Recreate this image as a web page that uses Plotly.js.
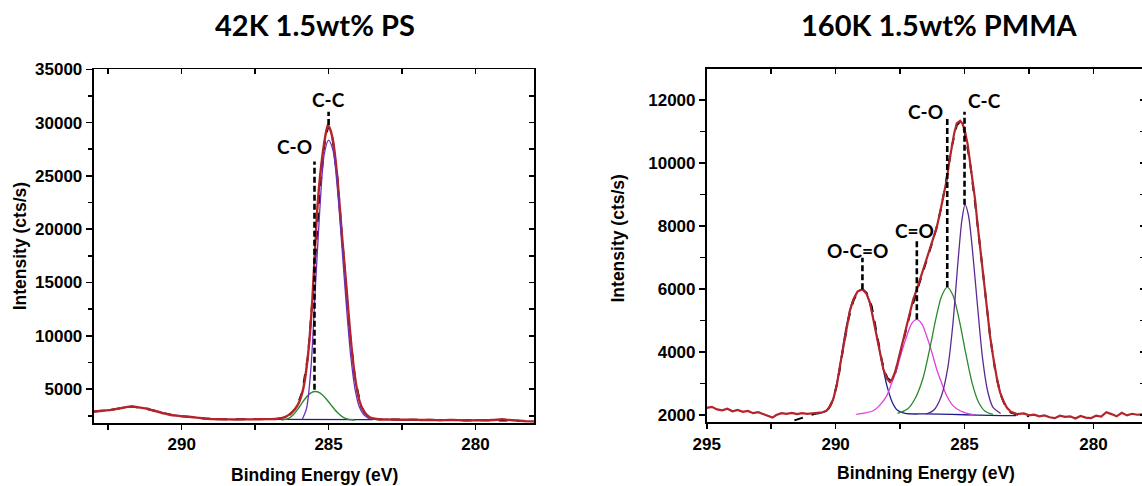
<!DOCTYPE html>
<html>
<head>
<meta charset="utf-8">
<script src="https://cdn.plot.ly/plotly-3.0.1.min.js"></script>
<style>
html,body{margin:0;padding:0;overflow:hidden;background:#fff;}
#chart{width:1150px;height:486px;}
</style>
</head>
<body>
<div id="chart"></div>
<script>
// ---------- Left panel: 42K 1.5wt% PS ----------
const psTitle = "42K 1.5wt% PS";
const psDataE = [293.0,292.8,292.6,292.4,292.2,292.0,291.85,291.7,291.55,291.4,291.2,291.0,290.8,290.6,290.4,290.2,290.0,289.8,289.6,289.4,289.2,289.0,288.8,288.5,288.2,287.9,287.6,287.3,287.0,286.8,286.6,286.45,286.3,286.15,286.0,285.85,285.7,285.55,285.4,285.25,285.1,285.03,284.95,284.85,284.7,284.55,284.4,284.25,284.1,283.95,283.8,283.65,283.5,283.3,283.0,282.7,282.4,282.1,281.8,281.5,281.2,280.9,280.6,280.3,280.0,279.7,279.4,279.1,278.9,278.6,278.3,278.0];
const psDataI = [2880,2950,3000,3050,3150,3250,3330,3370,3330,3260,3180,3020,2880,2720,2600,2520,2460,2420,2360,2300,2240,2200,2180,2170,2150,2170,2160,2180,2190,2200,2280,2420,2700,3100,3800,5200,8200,13500,21300,26000,28900,29780,29400,28300,24800,19600,14800,9800,6100,3900,2900,2450,2250,2180,2150,2130,2120,2140,2100,2110,2080,2100,2090,2060,2080,2070,2100,2180,2120,2050,1990,1960];
const psEnvE = [293.0,292.5,292.0,291.7,291.3,290.8,290.3,289.8,289.2,288.6,288.0,287.4,286.8,286.5,286.3,286.1,285.9,285.7,285.5,285.3,285.15,285.02,284.9,284.7,284.5,284.3,284.1,283.9,283.7,283.5,283.2,282.5,281.5,280.5,279.5,278.5,278.0];
const psEnvI = [2900,3020,3240,3360,3220,2880,2560,2410,2250,2170,2160,2170,2200,2330,2650,3250,4700,8100,15200,23500,27800,29600,29300,24800,17600,10900,6000,3400,2500,2220,2160,2130,2110,2090,2080,2040,2000];
const psCCE = [285.9,285.75,285.6,285.45,285.3,285.15,285.0,284.85,284.7,284.55,284.4,284.25,284.1,283.95,283.8,283.6];
const psCCI = [2150,3200,7000,14500,21800,27000,28350,27400,23800,18500,13000,8200,5000,3300,2600,2200];
const psCOE = [286.6,286.4,286.2,286.0,285.8,285.6,285.45,285.3,285.1,284.9,284.7,284.5,284.3,284.1];
const psCOI = [2110,2200,2600,3300,4100,4650,4780,4650,4150,3450,2800,2350,2150,2100];
const psBaseE = [286.9,283.5];
const psBaseI = [2170,2140];
const psLabels = ["C-C","C-O"];
const psLabelE = [285.0,285.48];
const psLineBottom = [29780,4935];
const psLineTop = [31020,26340];
const psLabelTextE = [285.0,285.48];
const psLabelTextI = [32150,27750];
const psLabelAnchor = ["center","right"];

// ---------- Right panel: 160K 1.5wt% PMMA ----------
const pmTitle = "160K 1.5wt% PMMA";
const pmDataE = [295.0,294.8,294.6,294.4,294.2,294.0,293.8,293.6,293.4,293.2,293.0,292.8,292.6,292.45,292.3,292.1,291.9,291.7,291.5,291.3,291.1,290.9,290.7,290.5,290.35,290.2,290.09,289.95,289.83,289.7,289.57,289.45,289.31,289.15,288.96,288.8,288.67,288.55,288.41,288.28,288.15,288.0,287.89,287.8,287.7,287.6,287.5,287.37,287.24,287.1,286.99,286.85,286.73,286.6,286.47,286.35,286.21,286.08,285.95,285.82,285.69,285.6,285.5,285.4,285.3,285.17,285.08,284.98,284.88,284.79,284.69,284.59,284.5,284.4,284.3,284.2,284.1,284.01,283.9,283.82,283.72,283.62,283.5,283.36,283.2,282.97,282.7,282.5,282.3,282.1,281.9,281.7,281.5,281.3,281.1,280.9,280.7,280.5,280.3,280.1,279.9,279.7,279.5,279.3,279.1,278.9,278.7,278.5,278.3,278.0];
const pmDataI = [2230,2260,2180,2150,2200,2120,2160,2100,2130,2060,2090,2030,1960,1920,2000,2060,2040,2070,2030,2060,2040,2050,2060,2090,2140,2300,2510,2950,3560,4200,4830,5300,5670,5920,5990,5850,5570,5100,4510,3950,3460,3150,3050,3150,3350,3650,3990,4400,4830,5250,5670,5990,6300,6600,6940,7250,7570,7950,8420,8950,9470,10000,10520,10950,11260,11340,11250,11000,10600,10100,9500,8840,8100,7360,6600,5880,5150,4510,3900,3460,3050,2720,2450,2240,2100,2030,2050,1990,2010,1960,1990,1930,1900,1980,1940,1960,1890,1970,1920,1900,1980,1950,2090,2030,1960,2070,1990,2040,2010,2030];
const pmEnvE = [291.6,291.2,290.8,290.5,290.3,290.1,289.9,289.7,289.5,289.3,289.1,288.95,288.8,288.6,288.4,288.2,288.0,287.85,287.7,287.5,287.3,287.1,286.9,286.7,286.5,286.3,286.1,285.9,285.7,285.5,285.3,285.15,285.0,284.8,284.6,284.4,284.2,284.0,283.8,283.6,283.4,283.2,282.9,282.5];
const pmEnvI = [1830,1940,2040,2080,2160,2480,3150,4150,5050,5650,5950,5990,5880,5450,4600,3700,3180,3080,3300,3900,4600,5250,5800,6300,6800,7350,7900,8600,9500,10500,11200,11330,11000,10100,8800,7300,5850,4450,3350,2650,2250,2080,2000,1960];
const pmOCOE = [290.8,290.6,290.35,290.1,289.85,289.6,289.35,289.1,288.96,288.8,288.6,288.4,288.2,288.0,287.8,287.6,287.3,286.5,285.5,284.5,283.5,283.0];
const pmOCOI = [2060,2065,2130,2480,3500,4750,5600,5950,5990,5850,5300,4500,3650,2900,2400,2150,2050,2035,2020,2000,1985,1980];
const pmCdOE = [289.2,288.9,288.54,288.3,288.02,287.83,287.63,287.44,287.24,287.05,286.85,286.66,286.47,286.27,286.08,285.88,285.69,285.45,285.17,284.9,284.66];
const pmCdOI = [2020,2060,2136,2300,2611,3000,3456,4000,4510,4900,5038,4900,4510,4000,3456,3000,2611,2300,2136,2050,2010];
const pmCOE = [287.6,287.2,286.9,286.6,286.35,286.1,285.9,285.67,285.45,285.2,284.95,284.7,284.45,284.2,283.9];
const pmCOI = [2050,2200,2550,3200,4100,5100,5750,6060,5800,5000,3950,3000,2400,2120,2020];
const pmCCE = [286.5,286.2,285.9,285.65,285.45,285.25,285.1,284.98,284.85,284.7,284.5,284.3,284.1,283.9,283.6];
const pmCCI = [2030,2150,2600,3500,4900,6900,8200,8680,8350,7300,5500,3800,2750,2250,2050];
const pmLabels = ["O-C=O","C=O","C-O","C-C"];
const pmLabelE = [288.96,286.85,285.67,285.0];
const pmLineBottom = [5990,5038,6061,8678];
const pmLineTop = [6990,7517,11423,11631];
const pmLabelTextE = [289.17,286.93,285.76,284.93];
const pmLabelTextI = [7230,7870,11630,12000];
const pmLabelAnchor = ["center","center","right","left"];

// ---------- styles ----------
const RED = "#b3242b";
const tickFont = {family:"Liberation Sans, Arial, sans-serif", size:17, color:"#000", weight:700};
const labelFont = {family:"Lato, 'Noto Sans', sans-serif", size:19, color:"#000", weight:700};
const titleFont = {family:"Lato, 'Noto Sans', sans-serif", size:29, color:"#000", weight:700};
const axTitleFont = {family:"Liberation Sans, Arial, sans-serif", size:17.5, color:"#000", weight:700};

function line(x, y, color, width, xa, ya, extra) {
  return Object.assign({type:"scatter", mode:"lines", x:x, y:y, xaxis:xa, yaxis:ya,
    line:Object.assign({color:color, width:width}, extra||{}), hoverinfo:"skip", showlegend:false});
}

const traces = [];
// left panel
traces.push(line(psEnvE, psEnvI, "#000", 2, "x", "y", {dash:"dash"}));
traces.push(line(psBaseE, psBaseI, "#1c1c9a", 1.3, "x", "y"));
traces.push(line(psCOE, psCOI, "#2e8b2e", 1.4, "x", "y", {shape:"spline", smoothing:0.8}));
traces.push(line(psDataE, psDataI, RED, 2.4, "x", "y", {shape:"spline", smoothing:0.4}));
traces.push(line(psCCE, psCCI, "#6a2fb5", 1.3, "x", "y", {shape:"spline", smoothing:0.8}));
// label lines: drawn on the overlay axes (same ranges) so that the top/right frame axes exist
const psLineAxes = [["x3","y"],["x","y3"]];
for (let i = 0; i < psLabels.length; i++) {
  traces.push(line([psLabelE[i], psLabelE[i]], [psLineBottom[i], psLineTop[i]], "#000", 2.6, psLineAxes[i][0], psLineAxes[i][1], {dash:"6px,3px"}));
}
// right panel
traces.push(line(pmEnvE, pmEnvI, "#000", 2, "x2", "y2", {dash:"dash"}));
traces.push(line(pmOCOE, pmOCOI, "#1c1c8a", 1.3, "x2", "y2", {shape:"spline", smoothing:0.8}));
traces.push(line(pmCdOE, pmCdOI, "#e040e0", 1.3, "x2", "y2", {shape:"spline", smoothing:0.8}));
traces.push(line(pmCOE, pmCOI, "#2a8a2a", 1.3, "x2", "y2", {shape:"spline", smoothing:0.8}));
traces.push(line(pmCCE, pmCCI, "#5a2a90", 1.3, "x2", "y2", {shape:"spline", smoothing:0.8}));
traces.push(line(pmDataE, pmDataI, RED, 2.2, "x2", "y2"));
const pmLineAxes = [["x4","y2"],["x2","y4"],["x2","y2"],["x2","y2"]];
for (let i = 0; i < pmLabels.length; i++) {
  traces.push(line([pmLabelE[i], pmLabelE[i]], [pmLineBottom[i], pmLineTop[i]], "#000", 2.6, pmLineAxes[i][0], pmLineAxes[i][1], {dash:"6px,3px"}));
}

const W = 1150, H = 486;
const base = {showgrid:false, zeroline:false, showline:true, linecolor:"#000", linewidth:1.8,
  tickcolor:"#000", tickwidth:1.6, tickfont:tickFont, tickformat:"d"};

const layout = {
  width:W, height:H, margin:{l:0,r:0,t:0,b:0},
  paper_bgcolor:"#fff", plot_bgcolor:"#fff", showlegend:false,
  xaxis: Object.assign({}, base, {domain:[93.5/W, 534.3/W], anchor:"y", range:[293,278],
    dtick:5, tick0:0, ticks:"outside", ticklen:5,
    minor:{dtick:2.5, tick0:0, ticks:"outside", ticklen:5, tickcolor:"#000", tickwidth:1.6}}),
  xaxis3: Object.assign({}, base, {overlaying:"x", anchor:"y", side:"top", range:[293,278],
    dtick:2.5, tick0:0, ticks:"inside", ticklen:5, showticklabels:false}),
  yaxis: Object.assign({}, base, {domain:[1-422.7/H, 1-69.3/H], anchor:"x", range:[1850,35000],
    dtick:5000, tick0:0, ticks:"outside", ticklen:6,
    minor:{dtick:2500, tick0:0, ticks:"outside", ticklen:4, tickcolor:"#000", tickwidth:1.6}}),
  yaxis3: Object.assign({}, base, {overlaying:"y", anchor:"x", side:"right", range:[1850,35000],
    dtick:2500, tick0:0, ticks:"inside", ticklen:5, showticklabels:false}),
  xaxis2: Object.assign({}, base, {domain:[706.7/W, 1145/W], anchor:"y2", range:[295,278],
    dtick:5, tick0:0, ticks:"outside", ticklen:5,
    minor:{dtick:2.5, tick0:0, ticks:"outside", ticklen:5, tickcolor:"#000", tickwidth:1.6}}),
  xaxis4: Object.assign({}, base, {overlaying:"x2", anchor:"y2", side:"top", range:[295,278],
    dtick:2.5, tick0:0, ticks:"inside", ticklen:5, showticklabels:false}),
  yaxis2: Object.assign({}, base, {domain:[1-422.3/H, 1-69/H], anchor:"x2", range:[1770,12985],
    dtick:2000, tick0:0, ticks:"outside", ticklen:6,
    minor:{dtick:1000, tick0:0, ticks:"outside", ticklen:5, tickcolor:"#000", tickwidth:1.6}}),
  yaxis4: Object.assign({}, base, {overlaying:"y2", anchor:"x2", side:"right", range:[1770,12985],
    dtick:1000, tick0:0, ticks:"inside", ticklen:5, showticklabels:false}),
  annotations: []
};

// titles and axis titles
layout.annotations.push({text:psTitle, xref:"paper", yref:"paper", x:315/W, y:1-24/H, showarrow:false, font:titleFont, xanchor:"center", yanchor:"middle"});
layout.annotations.push({text:pmTitle, xref:"paper", yref:"paper", x:939/W, y:1-24/H, showarrow:false, font:titleFont, xanchor:"center", yanchor:"middle"});
layout.annotations.push({text:"Binding Energy (eV)", xref:"paper", yref:"paper", x:314/W, y:1-475/H, showarrow:false, font:axTitleFont, xanchor:"center", yanchor:"middle"});
layout.annotations.push({text:"Bindning Energy (eV)", xref:"paper", yref:"paper", x:925.5/W, y:1-473/H, showarrow:false, font:axTitleFont, xanchor:"center", yanchor:"middle"});
layout.annotations.push({text:"Intensity (cts/s)", xref:"paper", yref:"paper", x:19.6/W, y:1-246.7/H, showarrow:false, font:axTitleFont, textangle:-90, xanchor:"center", yanchor:"middle"});
layout.annotations.push({text:"Intensity (cts/s)", xref:"paper", yref:"paper", x:617.5/W, y:1-239/H, showarrow:false, font:axTitleFont, textangle:-90, xanchor:"center", yanchor:"middle"});

for (let i = 0; i < psLabels.length; i++) {
  layout.annotations.push({text:psLabels[i], xref:"x", yref:"y", x:psLabelTextE[i], y:psLabelTextI[i],
    showarrow:false, font:labelFont, xanchor:psLabelAnchor[i], yanchor:"middle"});
}
for (let i = 0; i < pmLabels.length; i++) {
  layout.annotations.push({text:pmLabels[i], xref:"x2", yref:"y2", x:pmLabelTextE[i], y:pmLabelTextI[i],
    showarrow:false, font:labelFont, xanchor:pmLabelAnchor[i], yanchor:"middle"});
}

Plotly.newPlot("chart", traces, layout, {displayModeBar:false, staticPlot:true});
</script>
</body>
</html>
